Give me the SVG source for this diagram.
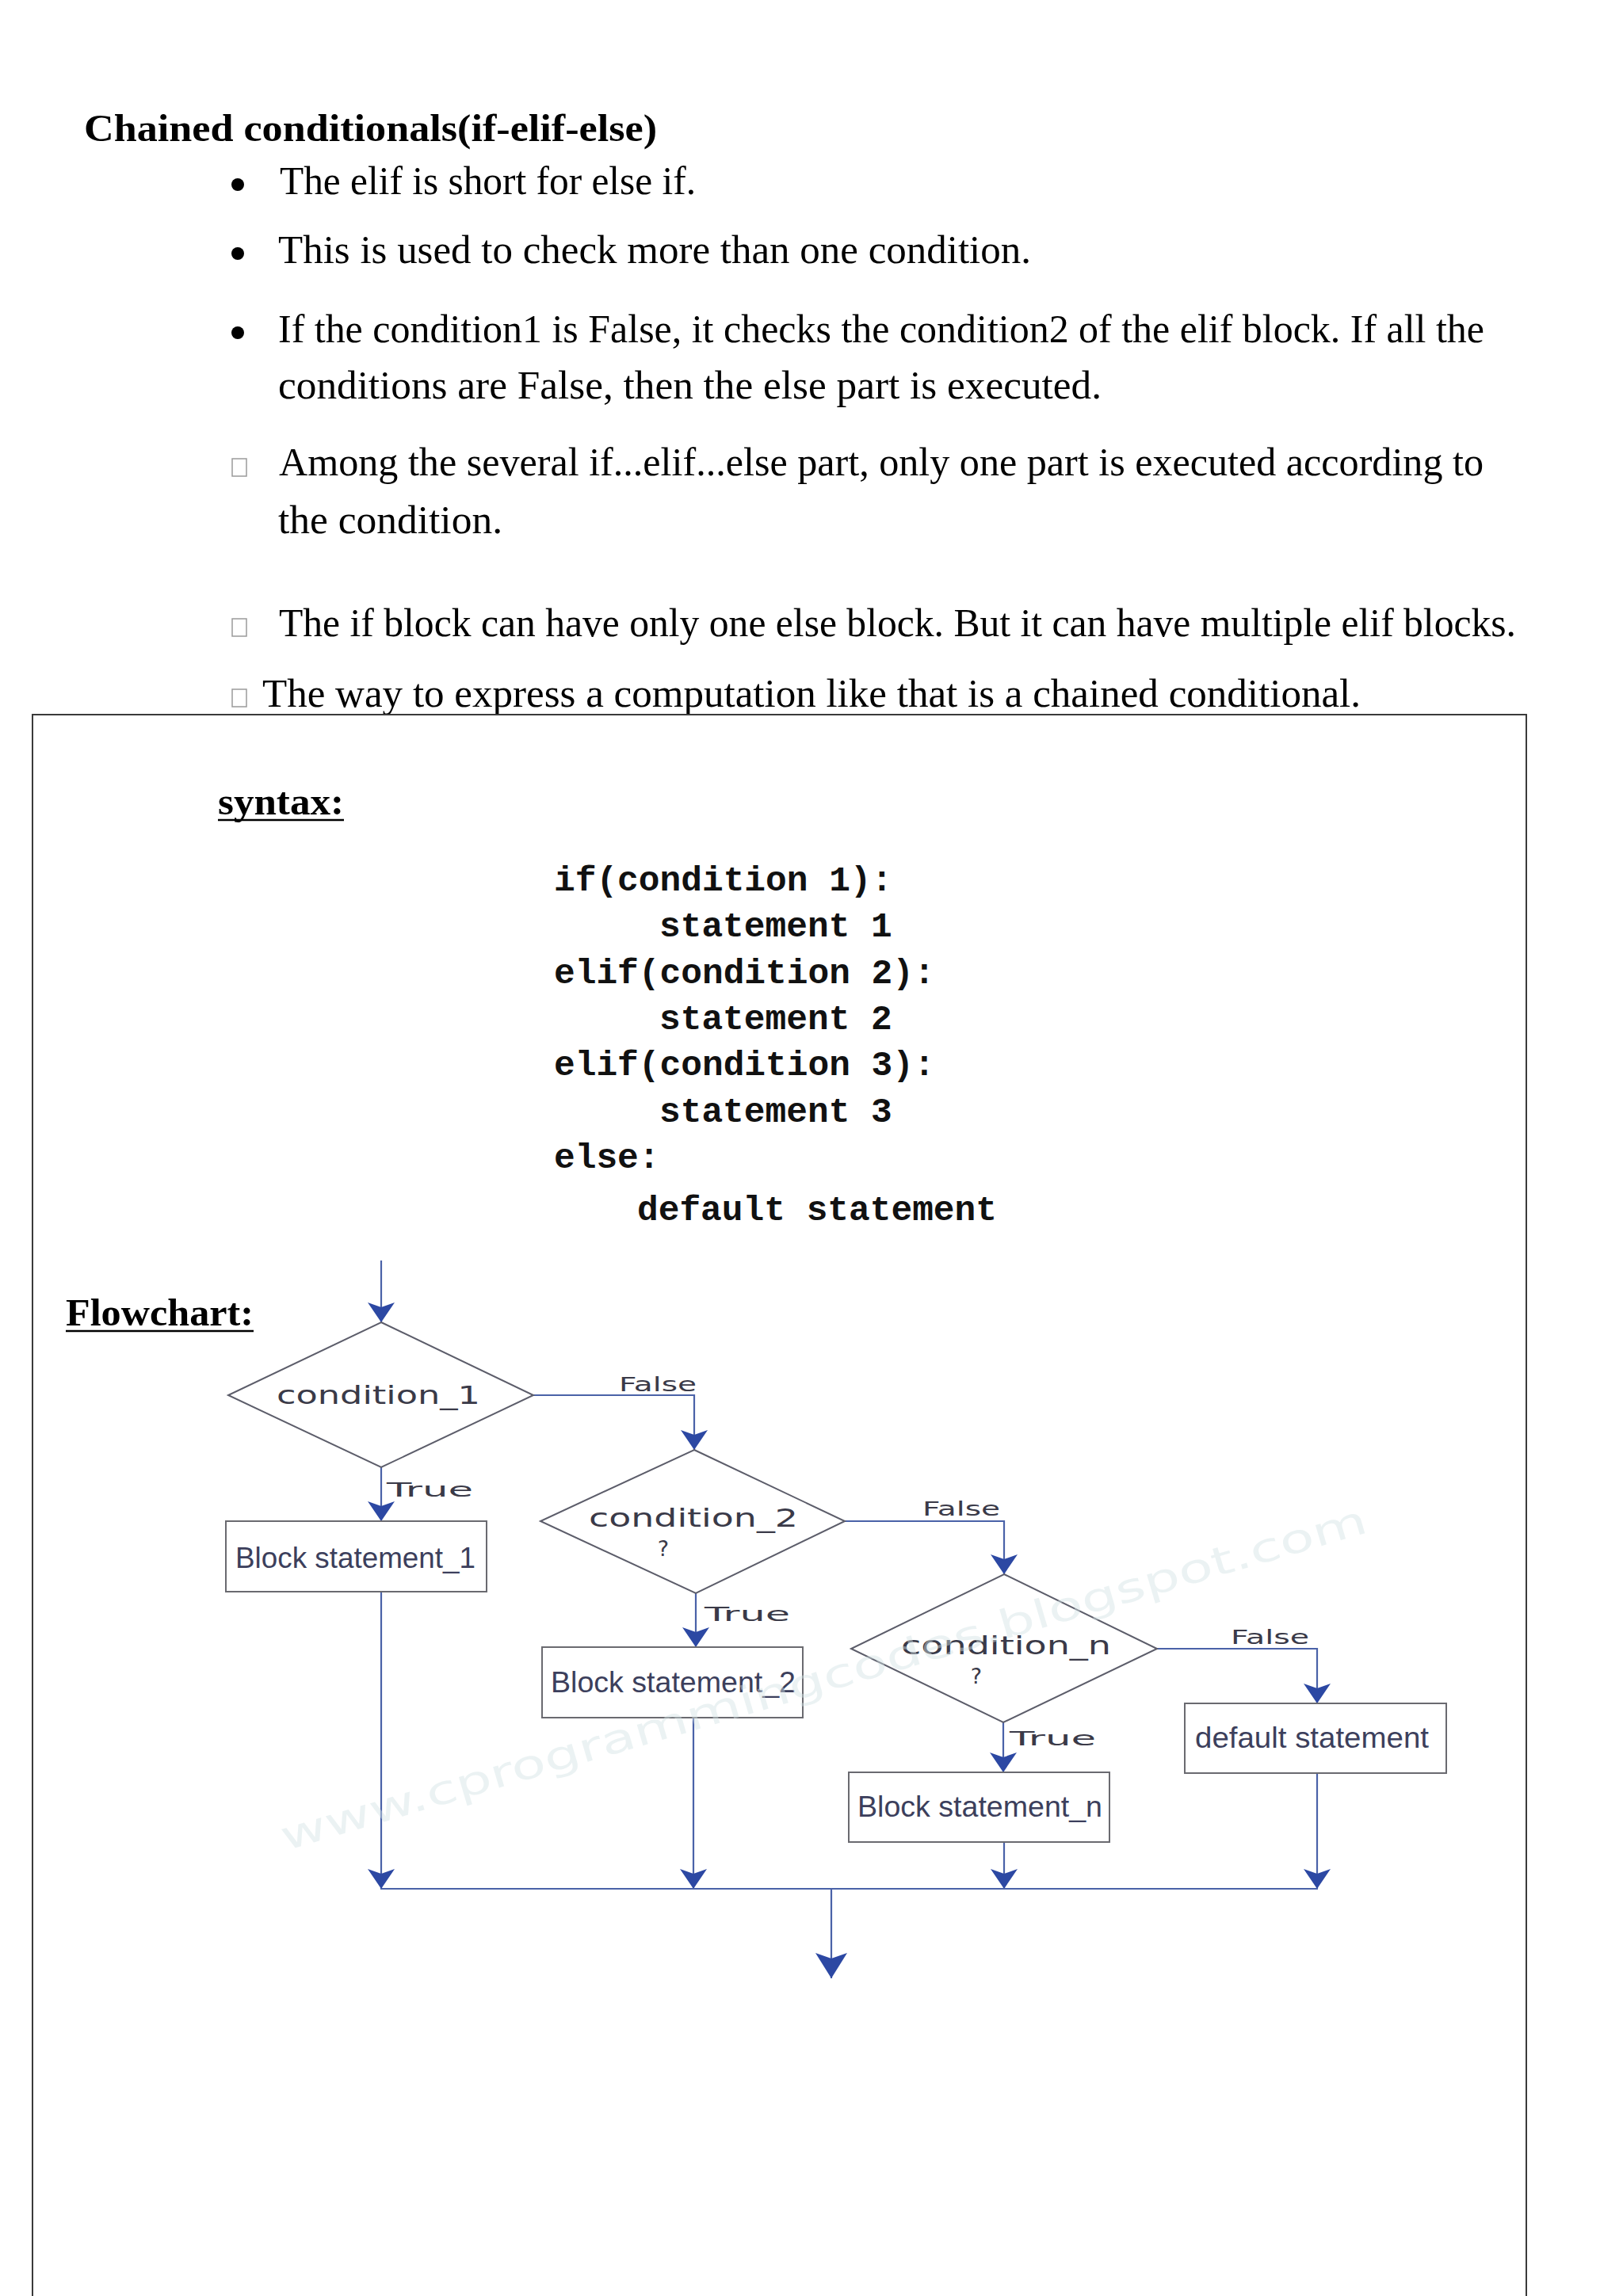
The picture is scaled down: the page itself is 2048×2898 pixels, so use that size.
<svg xmlns="http://www.w3.org/2000/svg" width="2048" height="2898" viewBox="0 0 2048 2898">
<defs>
<style>
.body{font-family:"Liberation Serif","DejaVu Serif",serif;font-size:50px;fill:#000}
.head{font-family:"Liberation Serif","DejaVu Serif",serif;font-size:48px;font-weight:bold;fill:#000}
.code{font-family:"Liberation Mono","DejaVu Sans Mono",monospace;font-size:44.5px;font-weight:bold;fill:#111}
.cond{font-family:"DejaVu Sans","Open Sans",sans-serif;font-size:32px;fill:#3a3a48}
.q{font-family:"DejaVu Sans","Open Sans",sans-serif;font-size:27px;fill:#3a3a48}
.lbl{font-family:"DejaVu Sans","Open Sans",sans-serif;font-size:24px;fill:#3a3a48}
.blk{font-family:"Liberation Sans Narrow","Liberation Sans",sans-serif;font-size:37px;fill:#3c3f5c}
.dia{fill:#fff;stroke:#5c5d6a;stroke-width:2}
.box{fill:#fff;stroke:#6a6a70;stroke-width:2}
.conn{fill:none;stroke:#4a62a8;stroke-width:2.2}
.tofu{fill:none;stroke:#9a9a9a;stroke-width:1.5}
</style>
<marker id="ah" markerUnits="userSpaceOnUse" viewBox="0 0 25 34" refX="25" refY="17" markerWidth="25" markerHeight="34" orient="auto">
<path d="M0,0 L25,17 L0,34 L6,17 Z" fill="#2c48a3"/>
</marker>
<marker id="ahBig" markerUnits="userSpaceOnUse" viewBox="0 0 32 40" refX="32" refY="20" markerWidth="32" markerHeight="40" orient="auto">
<path d="M0,0 L32,20 L0,40 L7,20 Z" fill="#2c48a3"/>
</marker>
</defs>
<rect width="2048" height="2898" fill="#fff"/>

<g id="intro">
<text class="head" x="106" y="178" textLength="723" lengthAdjust="spacingAndGlyphs">Chained conditionals(if-elif-else)</text>
<circle cx="300" cy="233" r="8"/>
<text class="body" x="353" y="245" textLength="525" lengthAdjust="spacingAndGlyphs">The elif is short for else if.</text>
<circle cx="300" cy="320" r="8"/>
<text class="body" x="351" y="332" textLength="950" lengthAdjust="spacingAndGlyphs">This is used to check more than one condition.</text>
<circle cx="300" cy="420" r="8"/>
<text class="body" x="351" y="432" textLength="1522" lengthAdjust="spacingAndGlyphs">If the condition1 is False, it checks the condition2 of the elif block. If all the</text>
<text class="body" x="351" y="503" textLength="1039" lengthAdjust="spacingAndGlyphs">conditions are False, then the else part is executed.</text>
<rect class="tofu" x="293" y="579" width="18" height="22"/>
<text class="body" x="352" y="600" textLength="1520" lengthAdjust="spacingAndGlyphs">Among the several if...elif...else part, only one part is executed according to</text>
<text class="body" x="351" y="673" textLength="283" lengthAdjust="spacingAndGlyphs">the condition.</text>
<rect class="tofu" x="293" y="781" width="18" height="22"/>
<text class="body" x="352" y="803" textLength="1561" lengthAdjust="spacingAndGlyphs">The if block can have only one else block. But it can have multiple elif blocks.</text>
<rect class="tofu" x="293" y="870" width="18" height="22"/>
<text class="body" x="331" y="892" textLength="1386" lengthAdjust="spacingAndGlyphs">The way to express a computation like that is a chained conditional.</text>
</g>

<rect id="frame" x="41" y="902" width="1885" height="2010" fill="none" stroke="#3a3a3a" stroke-width="2"/>

<g id="syntax">
<text class="head" x="275" y="1028" textLength="159" lengthAdjust="spacingAndGlyphs">syntax:</text>
<line x1="275" y1="1035" x2="434" y2="1035" stroke="#000" stroke-width="2.5"/>
<text class="code" x="699" y="1124">if(condition 1):</text>
<text class="code" x="832" y="1182">statement 1</text>
<text class="code" x="699" y="1241">elif(condition 2):</text>
<text class="code" x="832" y="1299">statement 2</text>
<text class="code" x="699" y="1357">elif(condition 3):</text>
<text class="code" x="832" y="1416">statement 3</text>
<text class="code" x="699" y="1474">else:</text>
<text class="code" x="804" y="1540">default statement</text>
</g>

<g id="flowchart-title">
<text class="head" x="83" y="1673" textLength="237" lengthAdjust="spacingAndGlyphs">Flowchart:</text>
<line x1="83" y1="1680" x2="320" y2="1680" stroke="#000" stroke-width="2.5"/>
</g>

<g id="connectors">
<path class="conn" d="M481,1591 V1669" marker-end="url(#ah)"/>
<path class="conn" d="M673,1761 H876 V1830" marker-end="url(#ah)"/>
<path class="conn" d="M481,1852 V1920" marker-end="url(#ah)"/>
<path class="conn" d="M1066,1920 H1267 V1987" marker-end="url(#ah)"/>
<path class="conn" d="M878,2011 V2079" marker-end="url(#ah)"/>
<path class="conn" d="M1266,2174 V2237" marker-end="url(#ah)"/>
<path class="conn" d="M1460,2081 H1662 V2150" marker-end="url(#ah)"/>
<path class="conn" d="M481,2009 V2384" marker-end="url(#ah)"/>
<path class="conn" d="M875,2168 V2384" marker-end="url(#ah)"/>
<path class="conn" d="M1267,2325 V2384" marker-end="url(#ah)"/>
<path class="conn" d="M1662,2238 V2384" marker-end="url(#ah)"/>
<path class="conn" d="M480,2384 H1663"/>
<path class="conn" d="M1049,2384 V2497" marker-end="url(#ahBig)"/>
<text class="lbl" x="781" y="1756" textLength="98" lengthAdjust="spacingAndGlyphs">False</text>
<text class="lbl" x="488" y="1889" textLength="109" lengthAdjust="spacingAndGlyphs">True</text>
<text class="lbl" x="1164" y="1913" textLength="98" lengthAdjust="spacingAndGlyphs">False</text>
<text class="lbl" x="889" y="2046" textLength="108" lengthAdjust="spacingAndGlyphs">True</text>
<text class="lbl" x="1553" y="2075" textLength="99" lengthAdjust="spacingAndGlyphs">False</text>
<text class="lbl" x="1274" y="2203" textLength="109" lengthAdjust="spacingAndGlyphs">True</text>
</g>

<g id="condition_1">
<polygon class="dia" points="481,1669 673,1761 481,1852 288,1761"/>
<text class="cond" x="349" y="1772" textLength="257" lengthAdjust="spacingAndGlyphs">condition_1</text>
</g>
<g id="condition_2">
<polygon class="dia" points="876,1830 1066,1920 878,2011 682,1920"/>
<text class="cond" x="743" y="1927" textLength="264" lengthAdjust="spacingAndGlyphs">condition_2</text>
<text class="q" x="837" y="1964" text-anchor="middle">?</text>
</g>
<g id="condition_n">
<polygon class="dia" points="1267,1987 1460,2081 1266,2174 1074,2081"/>
<text class="cond" x="1137" y="2088" textLength="265" lengthAdjust="spacingAndGlyphs">condition_n</text>
<text class="q" x="1232" y="2125" text-anchor="middle">?</text>
</g>
<g id="block_1">
<rect class="box" x="285" y="1920" width="329" height="89"/>
<text class="blk" x="297" y="1979" textLength="303" lengthAdjust="spacingAndGlyphs">Block statement_1</text>
</g>
<g id="block_2">
<rect class="box" x="684" y="2079" width="329" height="89"/>
<text class="blk" x="695" y="2136" textLength="309" lengthAdjust="spacingAndGlyphs">Block statement_2</text>
</g>
<g id="block_n">
<rect class="box" x="1071" y="2237" width="329" height="88"/>
<text class="blk" x="1082" y="2293" textLength="309" lengthAdjust="spacingAndGlyphs">Block statement_n</text>
</g>
<g id="default">
<rect class="box" x="1495" y="2150" width="330" height="88"/>
<text class="blk" x="1508" y="2206" textLength="295" lengthAdjust="spacingAndGlyphs">default statement</text>
</g>

<g id="watermark">
<text x="360" y="2336" transform="rotate(-16.4 360 2336)" font-family="DejaVu Sans, sans-serif" font-size="50" fill="#d3e2e4" fill-opacity="0.45" textLength="1426" lengthAdjust="spacingAndGlyphs">www.cprogrammingcodes.blogspot.com</text>
</g>
</svg>
